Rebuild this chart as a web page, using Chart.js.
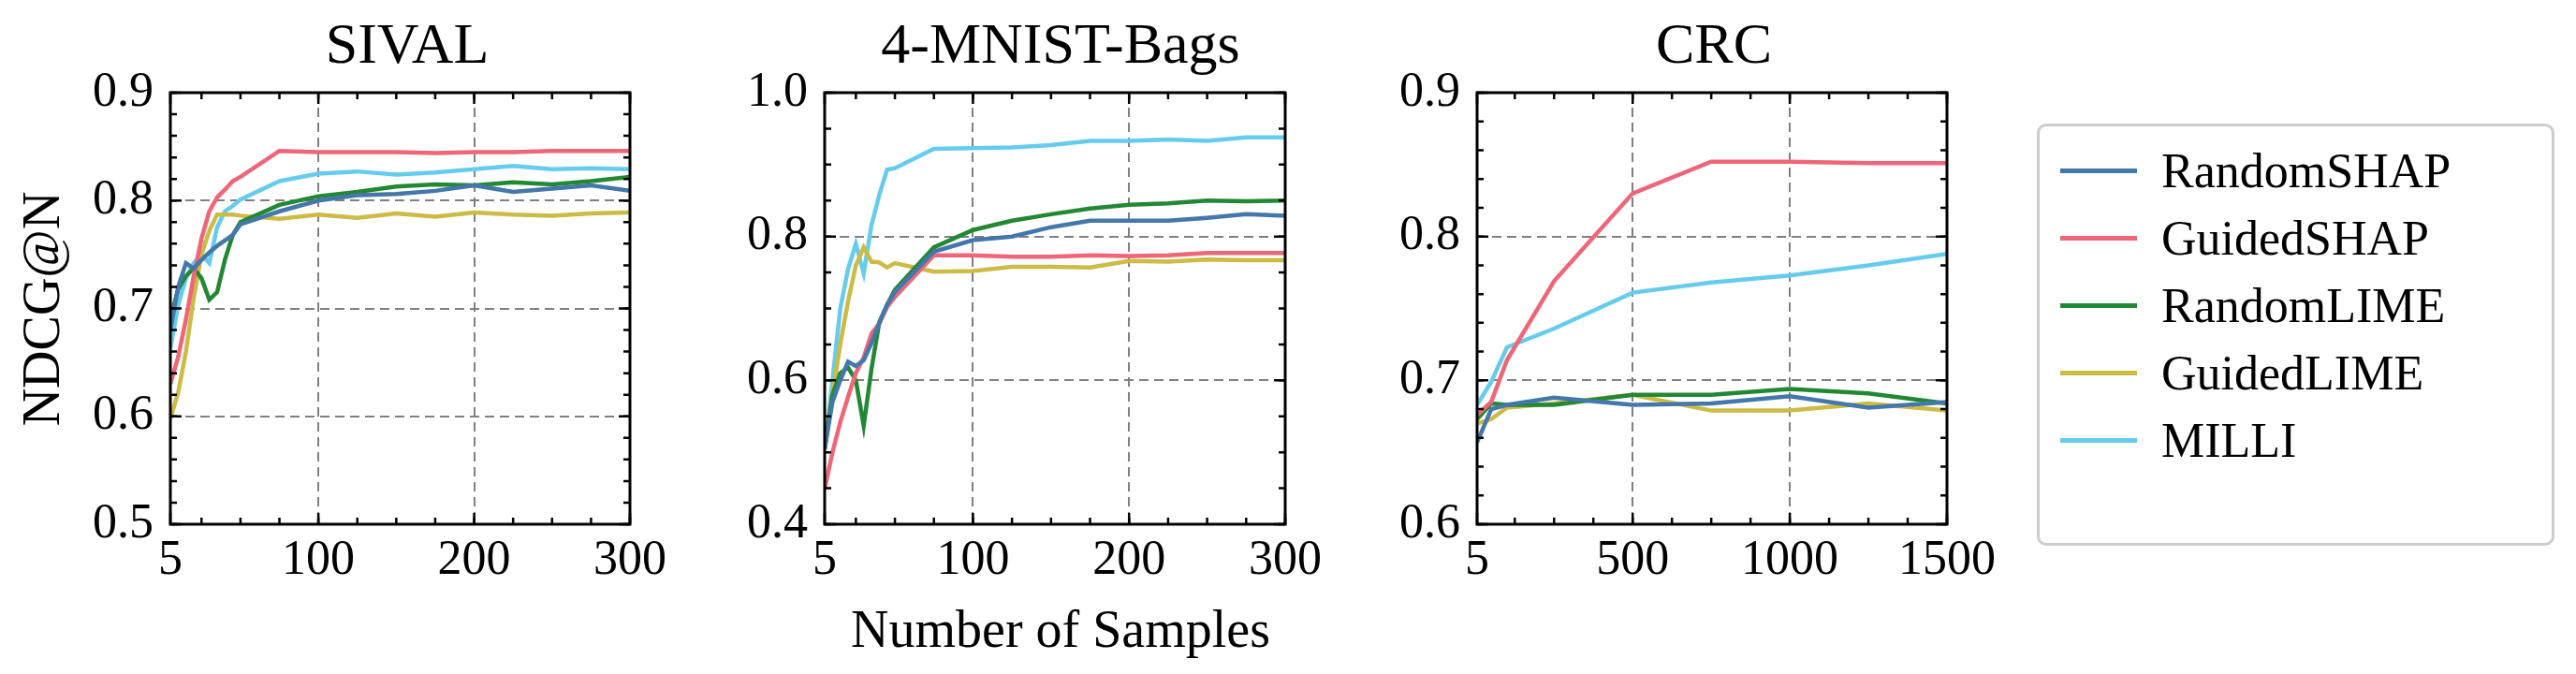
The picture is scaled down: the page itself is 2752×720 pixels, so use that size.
<!DOCTYPE html>
<html><head><meta charset="utf-8">
<script src="https://cdn.jsdelivr.net/npm/chart.js@4"></script>
<style>
body{margin:0;width:2752px;height:720px;background:#fff;position:relative;overflow:hidden;font-family:"Liberation Serif","DejaVu Serif",serif;}
canvas{position:absolute;top:0;}
.t{position:absolute;font-size:62px;color:#000;transform:translate(-50%,-50%);white-space:nowrap;}
#legend{position:absolute;left:2176px;top:132px;width:553px;height:451px;border:3px solid #cccccc;border-radius:10px;box-sizing:border-box;}
.li{position:absolute;left:22px;font-size:52px;display:flex;align-items:center;height:60px;}
.li span.l{display:inline-block;width:82px;height:5px;margin-right:26px;}
</style></head><body>
<div class="t" style="left:435px;top:46px">SIVAL</div>
<div class="t" style="left:1133px;top:46px">4-MNIST-Bags</div>
<div class="t" style="left:1831px;top:46px">CRC</div>
<div class="t" style="left:1133px;top:672px;font-size:56px">Number of Samples</div>
<div class="t" style="left:44px;top:330px;font-size:56px;transform:translate(-50%,-50%) rotate(-90deg)">NDCG@N</div>
<div id="legend"></div>
<canvas id="c1" width="720" height="720" style="left:0px"></canvas>
<canvas id="c2" width="700" height="720" style="left:720px"></canvas>
<canvas id="c3" width="720" height="720" style="left:1420px"></canvas>
<script>
const seriesNames = ["RandomSHAP","GuidedSHAP","RandomLIME","GuidedLIME","MILLI"];
const colors = ["#4477AA","#EE6677","#228833","#CCBB44","#66CCEE"];

const sivalX = [5,10,15,20,25,30,35,40,45,50,75,100,125,150,175,200,225,250,275,300];
const sivalRandomSHAP = [0.68,0.72,0.742,0.737,0.745,0.752,0.758,0.763,0.768,0.778,0.79,0.80,0.805,0.806,0.809,0.814,0.808,0.811,0.814,0.809];
const sivalGuidedSHAP = [0.63,0.655,0.69,0.73,0.765,0.79,0.803,0.81,0.818,0.822,0.846,0.845,0.845,0.845,0.844,0.845,0.845,0.846,0.846,0.846];
const sivalRandomLIME = [0.69,0.718,0.73,0.737,0.728,0.708,0.715,0.745,0.768,0.78,0.796,0.804,0.808,0.813,0.815,0.814,0.817,0.815,0.818,0.822];
const sivalGuidedLIME = [0.598,0.622,0.66,0.71,0.75,0.772,0.787,0.787,0.787,0.786,0.783,0.787,0.784,0.788,0.785,0.789,0.787,0.786,0.788,0.789];
const sivalMILLI = [0.663,0.703,0.728,0.742,0.75,0.742,0.775,0.79,0.795,0.801,0.818,0.825,0.827,0.824,0.826,0.829,0.832,0.829,0.83,0.829];

const mnistX = [5,10,15,20,25,30,35,40,45,50,75,100,125,150,175,200,225,250,275,300];
const mnistRandomSHAP = [0.505,0.57,0.6,0.626,0.62,0.628,0.652,0.68,0.705,0.723,0.779,0.795,0.8,0.813,0.822,0.822,0.822,0.826,0.831,0.829];
const mnistGuidedSHAP = [0.449,0.5,0.542,0.577,0.61,0.632,0.665,0.679,0.702,0.716,0.774,0.774,0.772,0.772,0.774,0.773,0.774,0.777,0.777,0.777];
const mnistRandomLIME = [0.505,0.58,0.61,0.618,0.6,0.537,0.616,0.681,0.705,0.726,0.785,0.809,0.822,0.831,0.839,0.844,0.846,0.85,0.849,0.85];
const mnistGuidedLIME = [0.505,0.58,0.65,0.71,0.76,0.785,0.765,0.764,0.757,0.763,0.751,0.752,0.758,0.758,0.757,0.766,0.765,0.768,0.767,0.767];
const mnistMILLI = [0.505,0.6,0.7,0.755,0.79,0.749,0.816,0.858,0.893,0.895,0.922,0.923,0.924,0.927,0.933,0.933,0.935,0.933,0.938,0.938];

const crcX = [5,50,100,250,500,750,1000,1250,1500];
const crcRandomSHAP = [0.657,0.68,0.683,0.688,0.683,0.684,0.689,0.681,0.685];
const crcGuidedSHAP = [0.676,0.685,0.714,0.769,0.83,0.852,0.852,0.851,0.851];
const crcRandomLIME = [0.673,0.684,0.683,0.683,0.69,0.69,0.694,0.691,0.684];
const crcGuidedLIME = [0.67,0.673,0.681,0.684,0.69,0.679,0.679,0.684,0.679];
const crcMILLI = [0.683,0.699,0.723,0.736,0.761,0.768,0.773,0.78,0.788];

const sivalXTicks=[5,100,200,300], sivalYTicks=[0.5,0.6,0.7,0.8,0.9];
const mnistXTicks=[5,100,200,300], mnistYTicks=[0.4,0.6,0.8,1.0];
const crcXTicks=[5,500,1000,1500], crcYTicks=[0.6,0.7,0.8,0.9];

const leg=document.getElementById('legend');
seriesNames.forEach((n,i)=>{const d=document.createElement('div');d.className='li';d.style.top=(47+i*72-30)+'px';
d.innerHTML='<span class="l" style="background:'+colors[i]+'"></span>'+n;leg.appendChild(d);});

function frame(xMinorStep,yMinorStep){return {id:'frame',afterDatasetsDraw(ch){
  const {ctx,chartArea:a,scales:{x,y}}=ch;ctx.save();ctx.strokeStyle='#000';ctx.lineWidth=2.5;ctx.setLineDash([]);
  const xs=x.min,xe=x.max,ys=y.min,ye=y.max;
  const tk=(v,len,horiz)=>{ctx.beginPath();if(horiz){const p=x.getPixelForValue(v);ctx.moveTo(p,a.bottom);ctx.lineTo(p,a.bottom-len);ctx.moveTo(p,a.top);ctx.lineTo(p,a.top+len);}else{const p=y.getPixelForValue(v);ctx.moveTo(a.left,p);ctx.lineTo(a.left+len,p);ctx.moveTo(a.right,p);ctx.lineTo(a.right-len,p);}ctx.stroke();};
  const xmaj=x.ticks.map(t=>t.value);
  for(let v=Math.ceil(xs/xMinorStep)*xMinorStep;v<=xe;v+=xMinorStep){tk(v,7,true);}
  xmaj.forEach(v=>tk(v,12,true));
  for(let k=Math.round(ys/yMinorStep);k*yMinorStep<=ye+1e-9;k++){tk(k*yMinorStep,7,false);}
  y.ticks.forEach(t=>tk(t.value,12,false));
  ctx.lineWidth=3;ctx.strokeRect(a.left,a.top,a.right-a.left,a.bottom-a.top);ctx.restore();}};}

function make(id,xs,ys,xmin,xmax,ymin,ymax,xt,yt,yw,rp,xMinor,yMinor){
  const cfg={type:'line',data:{datasets:ys.map((d,i)=>({label:seriesNames[i],data:xs.map((xv,j)=>({x:xv,y:d[j]})),borderColor:colors[i],borderWidth:4.5,pointRadius:0,tension:0,fill:false}))},
  options:{animation:false,responsive:false,layout:{padding:{top:99,right:rp,bottom:90,left:0}},
   plugins:{legend:{display:false},tooltip:{enabled:false}},
   scales:{
    x:{type:'linear',min:xmin,max:xmax,afterBuildTicks:s=>{s.ticks=xt.map(v=>({value:v}));},afterFit:s=>{s.height=70;},
      border:{display:false,dash:[10,6]},grid:{drawTicks:false,color:c=>(c.index===0||c.index===xt.length-1)?'rgba(0,0,0,0)':'#808080',lineWidth:2},
      ticks:{padding:8,color:'#000',font:{family:'Liberation Serif',size:52},maxRotation:0,callback:v=>String(v)}},
    y:{type:'linear',min:ymin,max:ymax,afterBuildTicks:s=>{s.ticks=yt.map(v=>({value:v}));},afterFit:s=>{s.width=yw;},
      border:{display:false,dash:[10,6]},grid:{drawTicks:false,color:c=>(c.index===0||c.index===yt.length-1)?'rgba(0,0,0,0)':'#808080',lineWidth:2},
      ticks:{padding:18,color:'#000',font:{family:'Liberation Serif',size:52},callback:v=>v.toFixed(1)}}}},
  plugins:[frame(xMinor,yMinor)]};
  return new Chart(document.getElementById(id),cfg);
}
make('c1',sivalX,[sivalRandomSHAP,sivalGuidedSHAP,sivalRandomLIME,sivalGuidedLIME,sivalMILLI],5,300,0.5,0.9,sivalXTicks,sivalYTicks,182,31,25,0.02);
make('c2',mnistX,[mnistRandomSHAP,mnistGuidedSHAP,mnistRandomLIME,mnistGuidedLIME,mnistMILLI],5,300,0.4,1.0,mnistXTicks,mnistYTicks,161,34,25,0.05);
make('c3',crcX,[crcRandomSHAP,crcGuidedSHAP,crcRandomLIME,crcGuidedLIME,crcMILLI],5,1500,0.6,0.9,crcXTicks,crcYTicks,158,55,125,0.02);
</script>
</body></html>
